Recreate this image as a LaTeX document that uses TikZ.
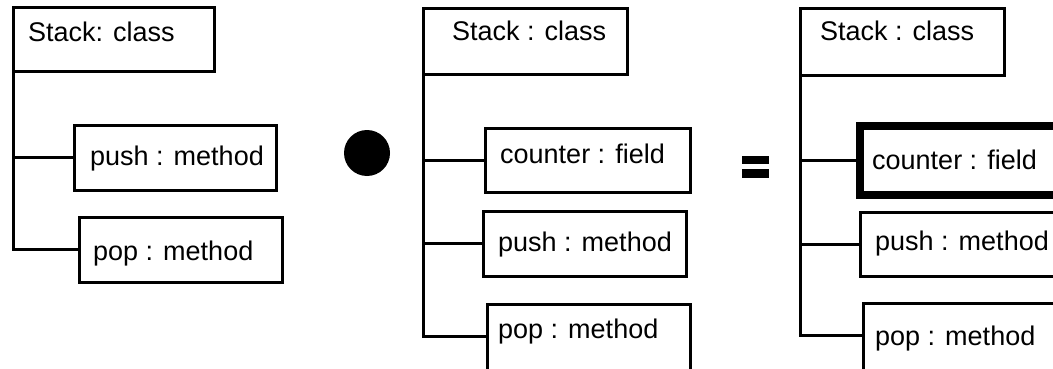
\documentclass[tikz,border=0pt]{standalone}
\usepackage{fontspec}
\setmainfont{Liberation Sans}
\begin{document}
\begin{tikzpicture}[x=1pt,y=-1pt,
  box/.style={draw, rectangle, line width=3pt, inner sep=0pt, outer sep=0pt, anchor=north west},
  boldbox/.style={box, line width=8pt},
  txt/.style={anchor=base west, inner sep=0pt, font=\fontsize{27}{32}\selectfont},
  wire/.style={line width=3pt}]
\useasboundingbox (0,0) rectangle (1053,369);
\begin{scope}
\clip (0,0) rectangle (1053,369);

% ---- left tree: Stack with two methods
\node[box, minimum width=201pt, minimum height=64pt] (stack1) at (13,8) {};
\node[box, minimum width=202pt, minimum height=65pt] (push1) at (74,125) {};
\node[box, minimum width=203pt, minimum height=65pt] (pop1) at (79,217) {};
\node[txt] (stack1t) at (28,42) {Stack: class};
\node[txt] (push1t) at (90,165) {push : method};
\node[txt] (pop1t) at (93,260) {pop : method};
\draw[wire] (stack1.south west) |- (pop1.west);
\draw[wire] (stack1.south west |- push1.west) -- (push1.west);

% ---- composition operator
\fill (367,153) circle[radius=23pt];

% ---- middle tree: Stack with a field and two methods
\node[box, minimum width=204pt, minimum height=66pt] (stack2) at (423,9) {};
\node[box, minimum width=205pt, minimum height=64pt] (counter2) at (485,128) {};
\node[box, minimum width=203pt, minimum height=65pt] (push2) at (483,211) {};
\node[box, minimum width=203pt, minimum height=100pt] (pop2) at (487,304) {};
\coordinate (j2) at (0,336);
\node[txt] (stack2t) at (452,41) {Stack : class};
\node[txt] (counter2t) at (500,163) {counter : field};
\node[txt] (push2t) at (498,251) {push : method};
\node[txt] (pop2t) at (498,338) {pop : method};
\draw[wire] (stack2.south west) |- (j2 -| pop2.west);
\draw[wire] (stack2.south west |- counter2.west) -- (counter2.west);
\draw[wire] (stack2.south west |- push2.west) -- (push2.west);

% ---- equals sign
\fill (742,156) rectangle (769,164);
\fill (742,169) rectangle (769,178);

% ---- right tree: the composed result
\node[box, minimum width=204pt, minimum height=67pt] (stack3) at (800,9) {};
\node[boldbox, minimum width=250pt, minimum height=69pt] (counter3) at (860,126) {};
\node[box, minimum width=250pt, minimum height=64pt] (push3) at (860,212) {};
\node[box, minimum width=250pt, minimum height=100pt] (pop3) at (863,303) {};
\coordinate (j3) at (0,335);
\node[txt] (stack3t) at (820,41) {Stack : class};
\node[txt] (counter3t) at (872,169) {counter : field};
\node[txt] (push3t) at (875,250) {push : method};
\node[txt] (pop3t) at (875,345) {pop : method};
\draw[wire] (stack3.south west) |- (j3 -| pop3.west);
\draw[wire] (stack3.south west |- counter3.west) -- (counter3.west);
\draw[wire] (stack3.south west |- push3.west) -- (push3.west);
\end{scope}
\end{tikzpicture}
\end{document}
